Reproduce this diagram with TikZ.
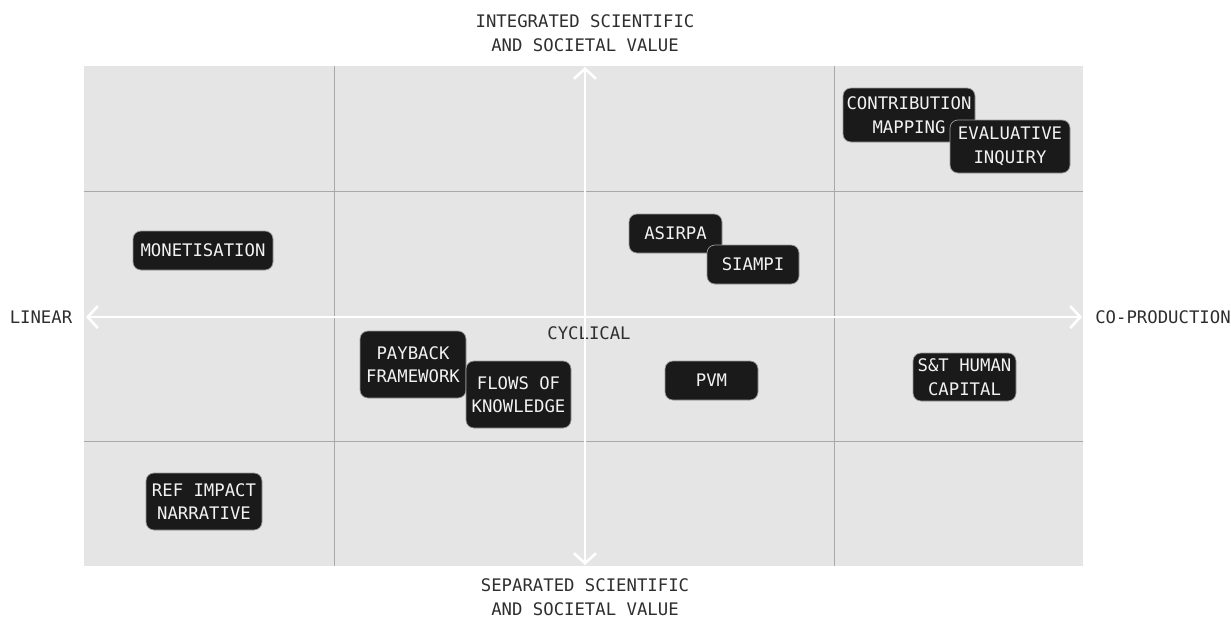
\documentclass[tikz,border=0pt]{standalone}
\usepackage{fontspec}
\setmonofont{DejaVu Sans Mono}
\usetikzlibrary{arrows.meta}
\definecolor{bggray}{HTML}{E5E5E5}
\definecolor{gridgray}{HTML}{A8A8A8}
\definecolor{boxfill}{HTML}{1A1A1A}
\definecolor{boxline}{HTML}{9A9A9A}
\definecolor{labeltext}{HTML}{2E2E2E}
\definecolor{boxtext}{HTML}{F2F2F2}
\begin{document}
\begin{tikzpicture}[x=1pt,y=-1pt,
  txt/.style={font=\ttfamily\fontsize{17.3}{23.5}\selectfont},
  axislabel/.style={txt,text=labeltext,align=center,inner sep=0pt},
  method/.style={txt,rounded corners=8pt,fill=boxfill,draw=boxline,line width=0.7pt,
    text=boxtext,align=center,inner sep=0pt},
  gridline/.style={draw=gridgray,line width=0.8pt},
  axis/.style={draw=white,line width=2.6pt,{Straight Barb[length=10pt,width=22pt]}-{Straight Barb[length=10pt,width=22pt]}}
]
\useasboundingbox (0,0) rectangle (1231,618);
% background panel
\fill[bggray] (84,66) rectangle (1083,566);
% grid
\coordinate (g1t) at (334,66); \coordinate (g1b) at (334,566);
\coordinate (g2t) at (834,66); \coordinate (g2b) at (834,566);
\coordinate (h1l) at (84,191); \coordinate (h1r) at (1083,191);
\coordinate (h2l) at (84,441); \coordinate (h2r) at (1083,441);
\draw[gridline] (g1t) -- (g1b);
\draw[gridline] (g2t) -- (g2b);
\draw[gridline] (h1l) -- (h1r);
\draw[gridline] (h2l) -- (h2r);
% centre label
\node[axislabel] (cyc) at (589,333) {CYCLICAL};
% axes
\coordinate (axL) at (86,317); \coordinate (axR) at (1082,317);
\coordinate (axT) at (585,67); \coordinate (axB) at (585,565);
\draw[axis] (axL) -- (axR);
\draw[axis] (axT) -- (axB);
% axis labels
\node[axislabel] (top) at (585,33) {INTEGRATED SCIENTIFIC\\AND SOCIETAL VALUE};
\node[axislabel] (bot) at (585,597) {SEPARATED SCIENTIFIC\\AND SOCIETAL VALUE};
\node[axislabel] (lin) at (41,317) {LINEAR};
\node[axislabel] (cop) at (1163,317) {CO-PRODUCTION};
% method boxes
\node[method,minimum width=140pt,minimum height=39pt] (mon) at (203,250.5) {MONETISATION};
\node[method,minimum width=93pt,minimum height=39pt] (asi) at (675.5,233.5) {ASIRPA};
\node[method,minimum width=92pt,minimum height=39pt] (sia) at (753,264.5) {SIAMPI};
\node[method,minimum width=93pt,minimum height=39pt] (pvm) at (711.5,380.5) {PVM};
\node[method,minimum width=103pt,minimum height=48pt] (stc) at (964.5,377) {S\&T HUMAN\\CAPITAL};
\node[method,minimum width=116pt,minimum height=57pt] (ref) at (204,501.5) {REF IMPACT\\NARRATIVE};
\node[method,minimum width=132pt,minimum height=54pt] (con) at (909,115) {CONTRIBUTION\\MAPPING};
\node[method,minimum width=120pt,minimum height=53pt] (eva) at (1010,146.5) {EVALUATIVE\\INQUIRY};
\node[method,minimum width=106pt,minimum height=67pt] (pay) at (413,364.5) {PAYBACK\\FRAMEWORK};
\node[method,minimum width=105pt,minimum height=67pt] (flo) at (518.5,394.5) {FLOWS OF\\KNOWLEDGE};
\end{tikzpicture}
\end{document}
